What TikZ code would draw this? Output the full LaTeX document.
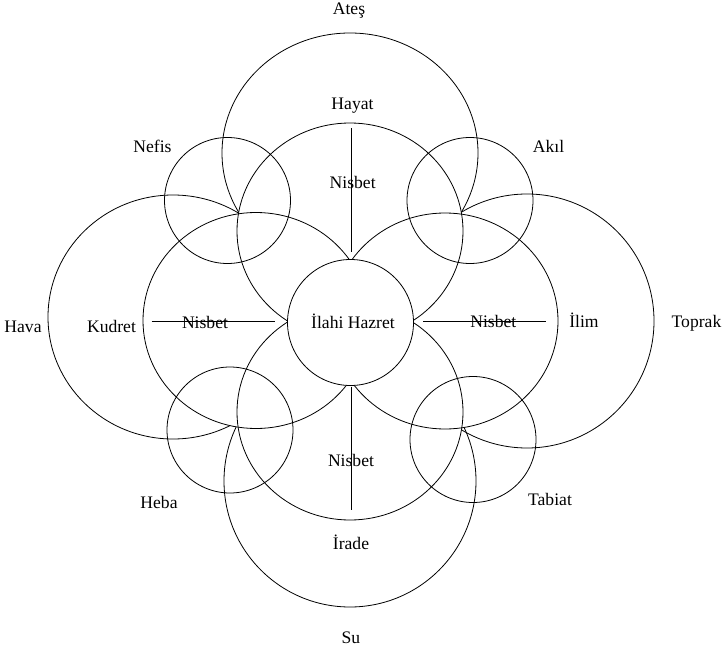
\documentclass[tikz,border=0pt]{standalone}
\usepackage{fontspec}
\setmainfont{Liberation Serif}
\begin{document}
\begin{tikzpicture}[x=1pt,y=-1pt,
  ring/.style={draw=black,line width=0.8pt},
  cover/.style={fill=white},
  lbl/.style={inner sep=0pt,anchor=base,font=\fontsize{17.6pt}{20pt}\selectfont},
  link/.style={draw=black,line width=1.5pt}]
\useasboundingbox (0,0) rectangle (723,650);
% outer (element) circles
\draw[ring] (350,153) ellipse [x radius=128,y radius=120];
\draw[ring] (173,317) ellipse [x radius=125,y radius=122];
\draw[ring] (527,321) circle [radius=127];
\draw[ring] (350,481) circle [radius=126];
% middle (attribute) circles: cover, then outline
\fill[cover] (350,231) ellipse [x radius=113,y radius=108];
\fill[cover] (256,320.5) ellipse [x radius=113,y radius=108];
\fill[cover] (445,321) ellipse [x radius=113,y radius=108];
\fill[cover] (350,412) ellipse [x radius=113,y radius=108];
\draw[ring] (350,231) ellipse [x radius=113,y radius=108];
\draw[ring] (256,320.5) ellipse [x radius=113,y radius=108];
\draw[ring] (445,321) ellipse [x radius=113,y radius=108];
\draw[ring] (350,412) ellipse [x radius=113,y radius=108];
% small circles
\draw[ring] (227.5,200.5) circle [radius=63];
\draw[ring] (470,200.5) circle [radius=63];
\draw[ring] (230,430) circle [radius=63];
\draw[ring] (473,439.5) circle [radius=63];
% centre
\node[circle,draw=black,fill=white,line width=0.8pt,minimum size=126pt,inner sep=0pt] (hub) at (350.5,322.5) {};
% labels
\node[lbl] (ates) at (349,14.3) {Ateş};
\node[lbl] (hayat) at (352.5,110) {Hayat};
\node[lbl] (nefis) at (152.5,152.7) {Nefis};
\node[lbl] (akil) at (548.5,152.3) {Akıl};
\node[lbl] (hava) at (23,332.3) {Hava};
\node[lbl] (kudret) at (111.5,332) {Kudret};
\node[lbl] (ilahi) at (353,328) {İlahi Hazret};
\node[lbl] (ilim) at (584,327) {İlim};
\node[lbl] (toprak) at (696.5,327) {Toprak};
\node[lbl] (heba) at (159,508) {Heba};
\node[lbl] (tabiat) at (550,505) {Tabiat};
\node[lbl] (irade) at (351,549) {İrade};
\node[lbl] (su) at (351,643) {Su};
\node[lbl] (nt) at (352.7,188.3) {Nisbet};
\node[lbl] (nl) at (205,328) {Nisbet};
\node[lbl] (nr) at (493.3,327.5) {Nisbet};
\node[lbl] (nb) at (351,466) {Nisbet};
% relation lines
\coordinate (t1) at (351.7,128.3);
\coordinate (t2) at (351.7,251.7);
\coordinate (b1) at (351.7,386.7);
\coordinate (b2) at (351.7,510);
\coordinate (l1) at (151.7,321.7);
\coordinate (l2) at (275,321.7);
\coordinate (r1) at (423.3,321.7);
\coordinate (r2) at (546,321.7);
\draw[link] (t1) -- (t2);
\draw[link] (b1) -- (b2);
\draw[link] (l1) -- (l2);
\draw[link] (r1) -- (r2);
\end{tikzpicture}
\end{document}
